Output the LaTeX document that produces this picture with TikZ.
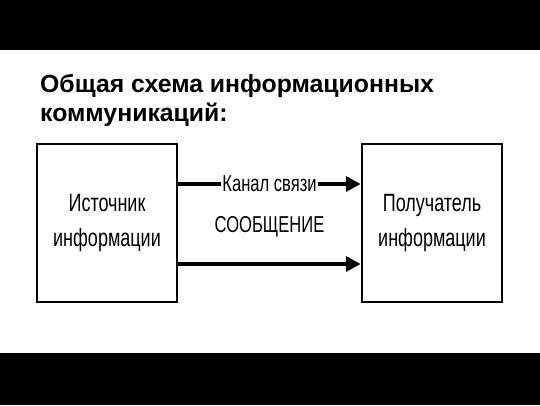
\documentclass[tikz,border=0pt]{standalone}
\usepackage{fontspec}
\setmainfont{Liberation Sans}
\newfontfamily\narrowfont{Liberation Sans}[FakeStretch=0.72]
\usetikzlibrary{arrows.meta,positioning}

\begin{document}
\begin{tikzpicture}[x=1pt,y=-1pt,
  box/.style={draw, rectangle, line width=2.5pt, minimum width=140pt, minimum height=158pt, align=center, font=\narrowfont\fontsize{25}{35}\selectfont},
  chan/.style={-{Triangle[length=15pt,width=15pt]}, line width=4pt},
  lbl/.style={fill=white, inner sep=1pt, font=\narrowfont\fontsize{23}{28}\selectfont}]
\useasboundingbox (0,0) rectangle (540,405);
% black bands of the slide
\fill[black] (0,0) rectangle (540,50);
\fill[black] (0,353) rectangle (540,405);
\node[anchor=north west, align=left, inner sep=0pt, font=\bfseries\fontsize{24.8}{29}\selectfont] (title) at (40,74) {Общая схема информационных\\коммуникаций:};
\node[box] (src) at (107,223) {Источник\\информации};
\node[box] (dst) at (432,223) {Получатель\\информации};
\draw[chan] ([yshift=39pt]src.east) -- node[lbl] (chname) {Канал связи} ([yshift=39pt]dst.west);
\node[lbl, below=20pt of chname] (msg) {СООБЩЕНИЕ};
\draw[chan] ([yshift=-41pt]src.east) -- ([yshift=-41pt]dst.west);
\end{tikzpicture}
\end{document}
